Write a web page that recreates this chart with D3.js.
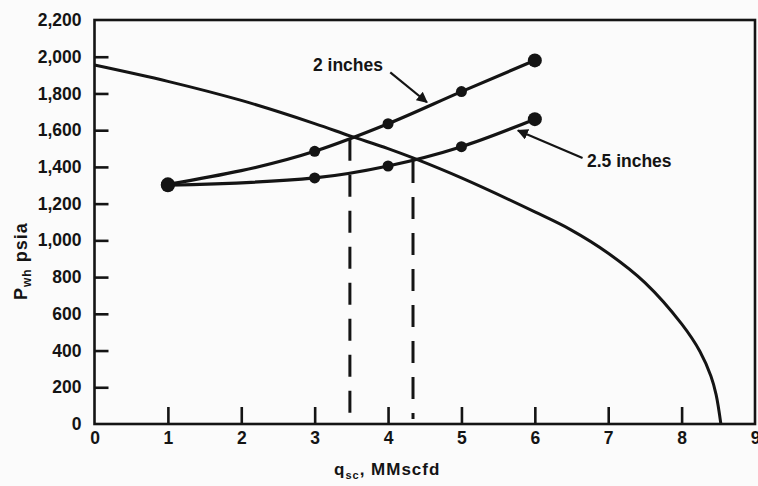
<!DOCTYPE html>
<html>
<head>
<meta charset="utf-8">
<script src="https://cdn.jsdelivr.net/npm/d3@7"></script>
<style>
  html, body { margin: 0; padding: 0; background: #fbfbfb; }
  svg { display: block; }
  text { font-family: "Liberation Sans", Arial, Helvetica, sans-serif; fill: #141414; }
</style>
</head>
<body>
<svg id="chart" width="758" height="486"></svg>
<script>
// Gas rate (MMscfd) vs wellhead pressure (psia)
const xTicks = [0, 1, 2, 3, 4, 5, 6, 7, 8, 9];
const yTicks = [0, 200, 400, 600, 800, 1000, 1200, 1400, 1600, 1800, 2000, 2200];

// Inflow performance curve
const iprQ = [0, 1, 2, 3, 3.48, 4, 4.34, 5, 6, 6.48, 7, 7.5, 8, 8.25, 8.4, 8.47, 8.535];
const iprP = [1955, 1866, 1762, 1636, 1569, 1500, 1449, 1340, 1155, 1060, 930, 770, 545, 395, 260, 160, 0];

// Tubing performance, 2-inch and 2.5-inch strings
const tubingQ = [1, 3, 4, 5, 6];
const tubing2P = [1305, 1485, 1635, 1810, 1980];
const tubing25P = [1300, 1340, 1405, 1510, 1660];

// Operating points (intersection of tubing and inflow curves)
const opQ = [3.48, 4.34];
const opP = [1569, 1449];

const svg = d3.select("#chart");
const ink = "#141414";

const x = d3.scaleLinear().domain([0, 9]).range([94.5, 755]);
const y = d3.scaleLinear().domain([0, 2200]).range([424, 20]);

// defs: arrowhead
svg.append("defs").append("marker")
  .attr("id", "arrow")
  .attr("viewBox", "0 0 10 10")
  .attr("refX", 9).attr("refY", 5)
  .attr("markerWidth", 5).attr("markerHeight", 5)
  .attr("orient", "auto")
  .append("path").attr("d", "M0,0 L10,5 L0,10 z").attr("fill", ink);

// Axes with inward ticks
const xAxis = d3.axisBottom(x).tickValues(xTicks).tickFormat(d3.format("d"))
  .tickSize(-17).tickSizeOuter(0).tickPadding(8);
const yAxis = d3.axisLeft(y).tickValues(yTicks).tickFormat(d3.format(","))
  .tickSize(-14).tickSizeOuter(0).tickPadding(13);

const gx = svg.append("g").attr("transform", `translate(0,${y(0)})`).call(xAxis);
const gy = svg.append("g").attr("transform", `translate(${x(0)},0)`).call(yAxis);
[gx, gy].forEach(g => {
  g.select(".domain").remove();
  g.selectAll(".tick line").attr("stroke", ink).attr("stroke-width", 2.6);
  g.selectAll(".tick text").attr("font-size", 17.5).attr("font-weight", "bold").attr("fill", ink)
    .style("font-family", '"Liberation Sans", Arial, Helvetica, sans-serif');
});
gx.selectAll(".tick line").filter(d => d === 0 || d === 9).remove();
gy.selectAll(".tick line").filter(d => d === 0 || d === 2200).remove();

// Plot frame
svg.append("rect")
  .attr("x", x(0)).attr("y", y(2200))
  .attr("width", x(9) - x(0)).attr("height", y(0) - y(2200))
  .attr("fill", "none").attr("stroke", ink).attr("stroke-width", 2.6);

// Dashed drop lines from operating points
svg.selectAll("line.op").data(opQ).enter().append("line")
  .attr("class", "op")
  .attr("x1", d => x(d)).attr("x2", d => x(d))
  .attr("y1", (d, i) => y(opP[i]) + 3).attr("y2", y(0) - 5)
  .attr("stroke", ink).attr("stroke-width", 3)
  .attr("stroke-dasharray", "22,14");

// Inflow curve
const iprData = iprQ.map((q, i) => [q, iprP[i]]);
svg.append("path").datum(iprData)
  .attr("fill", "none").attr("stroke", ink).attr("stroke-width", 3)
  .attr("d", d3.line().x(d => x(d[0])).y(d => y(d[1])).curve(d3.curveCatmullRom.alpha(0.5)));

// Tubing curves with markers
const lineGen = d3.line().x(d => x(d[0])).y(d => y(d[1])).curve(d3.curveMonotoneX);
[tubing2P, tubing25P].forEach(ps => {
  const data = tubingQ.map((q, i) => [q, ps[i]]);
  svg.append("path").datum(data)
    .attr("fill", "none").attr("stroke", ink).attr("stroke-width", 3.2)
    .attr("d", lineGen);
  svg.append("g").selectAll("circle").data(data).enter().append("circle")
    .attr("cx", d => x(d[0])).attr("cy", d => y(d[1]))
    .attr("r", (d, i) => (i === 0 || i === data.length - 1) ? 7 : 5.5)
    .attr("fill", ink);
});

// Curve labels with leader arrows
svg.append("text").attr("x", x(2.977)).attr("y", y(1923))
  .attr("font-size", 17.5).attr("font-weight", "bold").text("2 inches");
svg.append("line")
  .attr("x1", x(4.03)).attr("y1", y(1915))
  .attr("x2", x(4.53)).attr("y2", y(1752))
  .attr("stroke", ink).attr("stroke-width", 2.2).attr("marker-end", "url(#arrow)");

svg.append("text").attr("x", x(6.71)).attr("y", y(1400))
  .attr("font-size", 17.5).attr("font-weight", "bold").text("2.5 inches");
svg.append("line")
  .attr("x1", x(6.65)).attr("y1", y(1449))
  .attr("x2", x(5.77)).attr("y2", y(1598))
  .attr("stroke", ink).attr("stroke-width", 2.2).attr("marker-end", "url(#arrow)");

// Axis titles
const xt = svg.append("text").attr("x", 334).attr("y", 475)
  .attr("font-size", 17).attr("font-weight", "bold").attr("letter-spacing", 1);
xt.append("tspan").text("q");
xt.append("tspan").attr("font-size", 11).attr("dy", 4).text("sc");
xt.append("tspan").attr("dy", -4).text(", MMscfd");

const yt = svg.append("text").attr("transform", "translate(27,300) rotate(-90)")
  .attr("font-size", 18).attr("font-weight", "bold").attr("letter-spacing", 1);
yt.append("tspan").text("P");
yt.append("tspan").attr("font-size", 12).attr("dy", 4).text("wh");
yt.append("tspan").attr("dy", -4).text(" psia");
</script>
</body>
</html>
